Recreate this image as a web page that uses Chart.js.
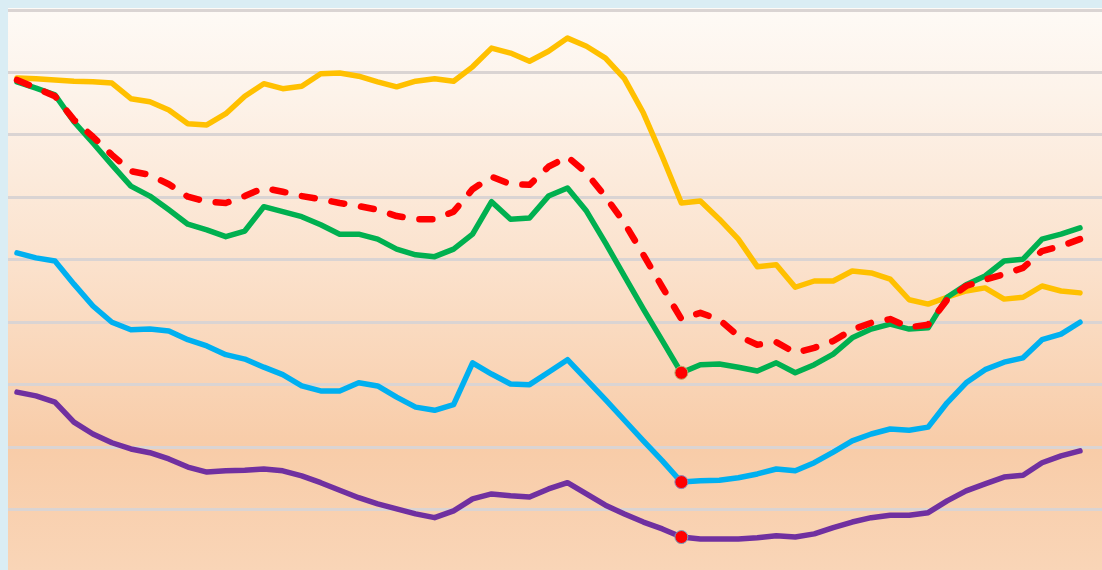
<!DOCTYPE html>
<html>
<head>
<meta charset="utf-8">
<script src="https://cdn.jsdelivr.net/npm/chart.js@4"></script>
<style>
  html, body { margin: 0; padding: 0; width: 1102px; height: 570px; overflow: hidden; background: #daedf4; }
  #wrap { position: absolute; left: 0; top: 0; width: 1102px; height: 582px; }
  canvas { display: block; }
</style>
</head>
<body>
<div id="wrap"><canvas id="c" width="1102" height="582"></canvas></div>
<script>
// ---- data ----
const periods = [1,2,3,4,5,6,7,8,9,10,11,12,13,14,15,16,17,18,19,20,21,22,23,24,25,26,27,28,29,30,
  31,32,33,34,35,36,37,38,39,40,41,42,43,44,45,46,47,48,49,50,51,52,53,54,55,56,57];

const yellowSeries = [79.1,79.0,78.8,78.6,78.5,78.3,75.8,75.3,74.0,71.8,71.6,73.4,76.2,78.2,77.4,77.8,79.8,79.9,79.4,78.5,
  77.7,78.6,79.0,78.6,80.9,83.9,83.1,81.8,83.4,85.5,84.2,82.3,79.0,73.5,66.5,59.1,59.4,56.5,53.3,48.9,
  49.2,45.6,46.6,46.6,48.2,47.9,46.9,43.6,42.9,44.0,45.0,45.5,43.7,44.0,45.8,45.0,44.7];

const greenSeries = [78.5,77.5,76.4,72.1,68.7,65.2,61.8,60.2,58.0,55.7,54.8,53.7,54.6,58.5,57.7,56.9,55.6,54.1,54.1,53.3,
  51.7,50.8,50.5,51.7,54.1,59.3,56.5,56.7,60.2,61.5,57.8,52.7,47.4,42.1,37.0,31.9,33.2,33.3,32.8,32.2,
  33.5,31.9,33.2,34.9,37.5,38.9,39.7,38.9,39.1,44.0,46.0,47.4,49.8,50.1,53.3,54.1,55.1];

const redSeries = [78.8,77.5,76.2,72.4,69.7,66.8,64.2,63.6,62.1,60.1,59.3,59.1,60.2,61.5,60.9,60.2,59.7,59.1,58.6,58.0,
  57.0,56.5,56.5,57.7,61.3,63.3,62.1,62.0,64.9,66.5,63.9,60.1,55.9,50.8,45.6,40.5,41.5,40.4,37.8,36.4,
  36.8,35.1,35.9,37.0,38.8,39.9,40.5,39.2,39.6,43.6,45.8,46.8,47.7,48.7,51.4,52.2,53.3];

const blueSeries = [51.1,50.3,49.8,46.1,42.6,40.0,38.8,38.9,38.6,37.2,36.2,34.8,34.1,32.8,31.6,29.8,29.0,29.0,30.3,29.8,
  28.0,26.4,25.9,26.8,33.5,31.7,30.1,30.0,32.0,34.0,30.8,27.6,24.3,21.0,17.8,14.4,14.6,14.7,15.1,15.7,
  16.5,16.2,17.5,19.2,21.0,22.1,22.9,22.7,23.2,27.1,30.3,32.4,33.6,34.3,37.2,38.1,40.0];

const purpleSeries = [28.8,28.2,27.2,24.0,22.1,20.7,19.7,19.1,18.1,16.8,16.0,16.2,16.3,16.5,16.2,15.4,14.3,13.1,11.9,10.9,
  10.1,9.3,8.7,9.8,11.7,12.5,12.2,12.0,13.3,14.3,12.5,10.7,9.3,8.0,6.9,5.6,5.3,5.3,5.3,5.5,
  5.8,5.6,6.1,7.1,8.0,8.7,9.1,9.1,9.5,11.4,13.0,14.1,15.2,15.5,17.5,18.6,19.4];

const highlightIndex = 35;
const yTicks = [0,10,20,30,40,50,60,70,80,90];

// ---- build chart ----
const toPoints = arr => arr.map((v, i) => ({ x: i, y: v, label: periods[i] }));
const markerRadius = (r) => periods.map((_, i) => i === highlightIndex ? r : 0);

const bgPlugin = {
  id: 'bg',
  beforeDraw(chart) {
    const ctx = chart.ctx;
    const W = chart.width, H = chart.height;
    ctx.save();
    const g = ctx.createLinearGradient(0, 8, 0, 570);
    g.addColorStop(0.00, '#fefaf6');
    g.addColorStop(0.15, '#fdf3ea');
    g.addColorStop(0.45, '#fbe2cd');
    g.addColorStop(0.78, '#f8cca8');
    g.addColorStop(1.00, '#f9d5b7');
    ctx.fillStyle = g;
    ctx.fillRect(8, 8, W - 8, H - 8);
    ctx.restore();
  }
};

const common = {
  fill: false,
  tension: 0,
  borderWidth: 5.5,
  borderJoinStyle: 'round',
  borderCapStyle: 'round',
  pointHoverRadius: 0,
};

new Chart(document.getElementById('c'), {
  type: 'line',
  data: {
    datasets: [
      Object.assign({}, common, {
        label: 'Red', data: toPoints(redSeries), borderColor: '#ff0000', borderWidth: 6.5,
        borderDash: [13, 17], pointRadius: 0, order: 0
      }),
      Object.assign({}, common, {
        label: 'Green', data: toPoints(greenSeries), borderColor: '#00b050',
        pointRadius: markerRadius(6.5), pointBackgroundColor: '#ff0000',
        pointBorderColor: '#b9a86a', pointBorderWidth: 1, order: 1
      }),
      Object.assign({}, common, {
        label: 'Purple', data: toPoints(purpleSeries), borderColor: '#7030a0',
        pointRadius: markerRadius(6.5), pointBackgroundColor: '#ff0000',
        pointBorderColor: '#6fa3c4', pointBorderWidth: 1, order: 2
      }),
      Object.assign({}, common, {
        label: 'Blue', data: toPoints(blueSeries), borderColor: '#00b0f0',
        pointRadius: markerRadius(6.5), pointBackgroundColor: '#ff0000',
        pointBorderColor: '#8a86b8', pointBorderWidth: 1, order: 3
      }),
      Object.assign({}, common, {
        label: 'Yellow', data: toPoints(yellowSeries), borderColor: '#ffc000',
        pointRadius: 0, order: 4
      }),
    ]
  },
  options: {
    responsive: false,
    animation: false,
    devicePixelRatio: 1,
    layout: { padding: { left: 8, right: 0, top: 10, bottom: 10 } },
    plugins: { legend: { display: false }, tooltip: { enabled: false } },
    events: [],
    scales: {
      x: {
        type: 'linear',
        display: false,
        min: -0.4741,
        max: 57.159
      },
      y: {
        type: 'linear',
        min: yTicks[0],
        max: yTicks[yTicks.length - 1],
        afterBuildTicks: (axis) => { axis.ticks = yTicks.map(v => ({ value: v })); },
        ticks: { display: false },
        border: { display: false },
        grid: { color: '#dad4d3', lineWidth: 3, drawTicks: false }
      }
    }
  },
  plugins: [bgPlugin]
});
</script>
</body>
</html>
